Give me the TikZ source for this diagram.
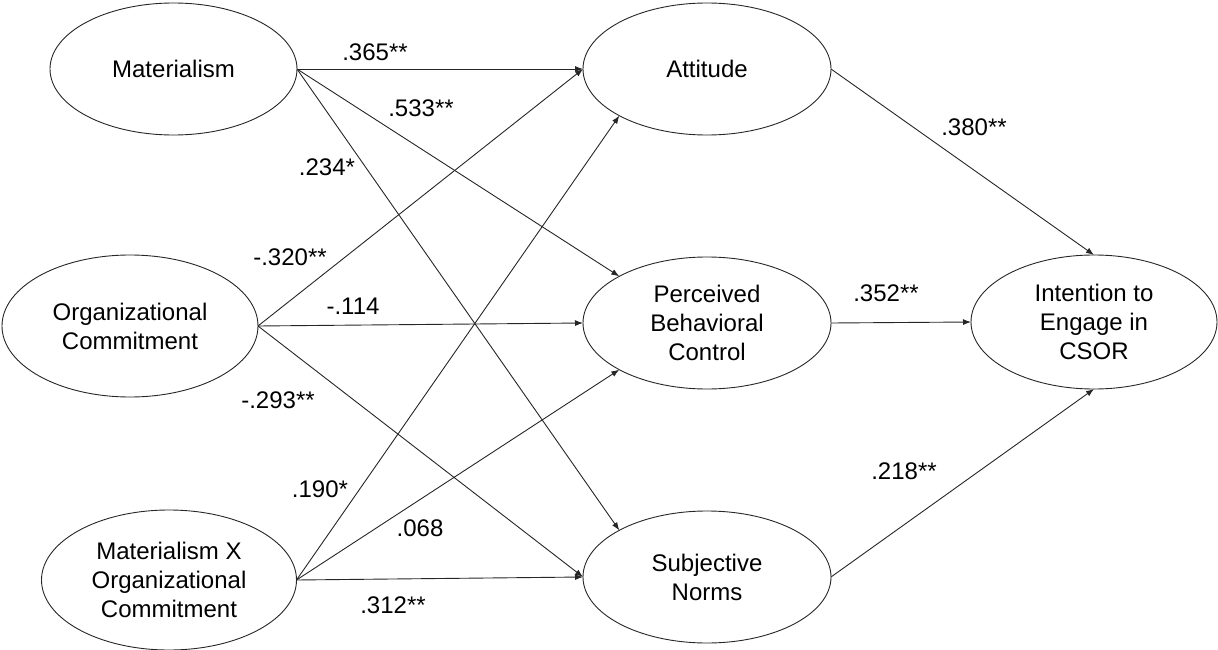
\documentclass[tikz,border=0pt]{standalone}
\usepackage{fontspec}
\setmainfont{Liberation Sans}
\usetikzlibrary{shapes.geometric,arrows.meta}

\begin{document}
\begin{tikzpicture}[x=1pt,y=-1pt,
  var/.style={ellipse, draw=black!85, line width=0.9pt, inner sep=0pt, outer sep=0pt,
    align=center, font=\fontsize{24}{29}\selectfont,
    minimum width=248pt, minimum height=132pt},
  link/.style={draw=black!85, line width=0.9pt, -{Latex[length=8pt,width=6pt]}},
  coef/.style={font=\fontsize{24}{29}\selectfont, inner sep=0pt}]
\useasboundingbox (0,0) rectangle (1218,650);

% predictors
\node[var, minimum width=247pt] (mat) at (173.5,69) {Materialism};
\node[var, minimum width=256pt, minimum height=142pt] (oc) at (130,326) {Organizational\\Commitment};
\node[var, minimum width=255pt, minimum height=140pt] (mx) at (169,580) {Materialism X\\Organizational\\Commitment};

% mediators
\node[var] (att) at (707,69) {Attitude};
\node[var] (pbc) at (707,323) {Perceived\\Behavioral\\Control};
\node[var] (sn) at (707,577) {Subjective\\Norms};

% outcome
\node[var, minimum width=246pt, minimum height=134pt] (int) at (1094,322) {Intention to\\Engage in\\CSOR};

% paths from predictors
\draw[link] (mat.east) -- (att.west);
\draw[link] (mat.east) -- (pbc.north west);
\draw[link] (mat.east) -- (sn.north west);
\draw[link] (oc.east) -- (att.west);
\draw[link] (oc.east) -- (pbc.west);
\draw[link] (oc.east) -- (sn.west);
\draw[link] (mx.east) -- (att.south west);
\draw[link] (mx.east) -- (pbc.south west);
\draw[link] (mx.east) -- (sn.west);

% paths to the outcome
\draw[link] (att.east) -- (int.north);
\draw[link] (pbc.east) -- (int.west);
\draw[link] (sn.east) -- (int.south);

% path coefficients
\node[coef] (c1) at (375,52) {.365**};
\node[coef] (c2) at (421,108) {.533**};
\node[coef] (c3) at (327,167) {.234*};
\node[coef] (c4) at (290,257) {-.320**};
\node[coef] (c5) at (353,306) {-.114};
\node[coef] (c6) at (278,400) {-.293**};
\node[coef] (c7) at (320,489) {.190*};
\node[coef] (c8) at (420,528) {.068};
\node[coef] (c9) at (393,605) {.312**};
\node[coef] (c10) at (974,127) {.380**};
\node[coef] (c11) at (886,293) {.352**};
\node[coef] (c12) at (904,471) {.218**};
\end{tikzpicture}
\end{document}
